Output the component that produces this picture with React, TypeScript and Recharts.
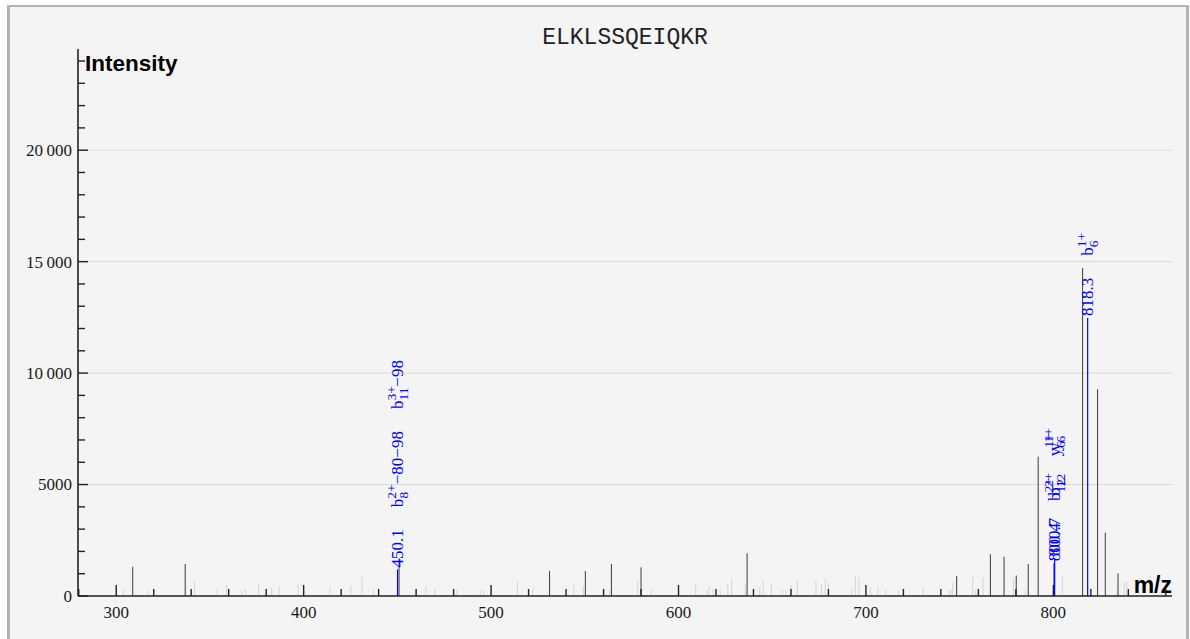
import React from 'react';
import { ComposedChart, Scatter, ErrorBar, XAxis, YAxis, CartesianGrid, Label } from 'recharts';

const peptide = 'ELKLSSQEIQKR';

const xTicks = [280, 300, 320, 340, 360, 380, 400, 420, 440, 460, 480, 500, 520, 540, 560, 580, 600, 620, 640, 660, 680, 700, 720, 740, 760, 780, 800, 820, 840, 860];
const xLabelTicks = [300, 400, 500, 600, 700, 800];
const yTicks = [0, 1000, 2000, 3000, 4000, 5000, 6000, 7000, 8000, 9000, 10000, 11000, 12000, 13000, 14000, 15000, 16000, 17000, 18000, 19000, 20000, 21000, 22000, 23000, 24000];
const yLabelTicks = [0, 5000, 10000, 15000, 20000];
const gridValues = [5000, 10000, 15000, 20000];

// [m/z, intensity]
const darkPeaks: [number, number][] = [
  [308.8, 1310], [336.8, 1435], [450.9, 1700], [531.2, 1120], [550.3, 1120],
  [564.2, 1435], [580.0, 1287], [636.6, 1915], [748.4, 905], [766.4, 1870],
  [773.7, 1763], [780.2, 920], [786.6, 1435], [791.9, 6246], [815.6, 14710],
  [823.6, 9280], [827.7, 2840], [834.5, 1017],
];

const lightPeaks: [number, number][] = [
  [303.8, 270], [316.8, 240], [341.8, 640], [353.8, 300], [358.9, 493], [366.9, 224],
  [368.8, 300], [375.9, 600], [382.9, 372], [387.0, 417], [397.0, 523], [414.0, 372],
  [425.1, 448], [431.1, 866], [437.2, 269], [465.2, 448], [470.0, 314], [481.7, 269],
  [494.2, 300], [496.0, 240], [514.1, 640], [522.3, 343], [544.2, 493], [549.2, 462],
  [563.3, 269], [578.2, 686], [585.4, 269], [609.2, 538], [615.1, 240], [616.3, 448],
  [618.6, 300], [622.2, 269], [626.3, 538], [628.3, 762], [635.6, 538], [643.4, 417],
  [645.2, 672], [649.5, 538], [655.3, 269], [657.3, 269], [660.0, 508], [663.4, 717],
  [673.3, 686], [676.3, 538], [678.3, 792], [680.0, 567], [692.5, 343], [694.3, 897],
  [696.2, 822], [702.5, 372], [706.4, 417], [710.5, 269], [717.5, 240], [730.5, 372],
  [744.5, 240], [745.4, 269], [746.3, 600], [757.0, 866], [758.6, 269], [762.5, 837],
  [778.7, 792], [785.0, 240], [804.8, 897], [834.0, 240], [837.8, 600], [839.1, 640],
];

const bluePeaks: [number, number][] = [
  [450.1, 1195], [800.4, 1466], [800.7, 1700], [818.3, 12470],
];

type Ion = { base: string; sup: string; sub: string; tail: string };
const blueMzLabels = ['450.1', '800.4', '800.7', '818.3'];
const blueIonLabels: Ion[][] = [
  [
    { base: 'b', sup: '2+', sub: '8', tail: '\u221280\u221298' },
    { base: 'b', sup: '3+', sub: '11', tail: '\u221298' },
  ],
  [
    { base: 'b', sup: '2+', sub: '12', tail: '' },
    { base: 'y', sup: '1+', sub: '6', tail: '' },
  ],
  [
    { base: 'b', sup: '2+', sub: '12', tail: '' },
    { base: 'y', sup: '1+', sub: '6', tail: '' },
  ],
  [
    { base: 'b', sup: '1+', sub: '6', tail: '' },
  ],
];

const toRows = (peaks: [number, number][]) =>
  peaks.map(([mz, v], i) => ({ mz, intensity: v, err: [v, 0], idx: i }));

const darkRows = toRows(darkPeaks);
const lightRows = toRows(lightPeaks);
const blueRows = toRows(bluePeaks);

const SERIF = '"Liberation Serif", "Times New Roman", serif';
const SANS = '"Liberation Sans", Arial, sans-serif';
const MONO = '"Liberation Mono", "Courier New", monospace';

const LABEL_FONT = 17;
const SCRIPT_FONT = 13.5;

const charW = (s: string, size: number) => {
  let w = 0;
  for (const c of s) {
    if (c === '+' || c === '\u2212') w += 0.564;
    else if (c === '.') w += 0.25;
    else w += 0.5;
  }
  return w * size;
};

const fmtY = (v: number) => {
  if (v >= 10000) {
    const s = String(v);
    return s.slice(0, s.length - 3) + '\u2009' + s.slice(s.length - 3);
  }
  return String(v);
};

const XTick = (props: any) => {
  const { x, y, payload } = props;
  const v = payload.value;
  const major = xLabelTicks.includes(v);
  return (
    <g>
      <line x1={x} x2={x} y1={y} y2={y - (major ? 11 : 7)} stroke="#222" strokeWidth={1.4} />
      {major && (
        <text x={x} y={y + 22} textAnchor="middle" fontFamily={SERIF} fontSize={17} fill="#1a1a1a">
          {v}
        </text>
      )}
    </g>
  );
};

const YTick = (props: any) => {
  const { x, y, payload } = props;
  const v = payload.value;
  const major = yLabelTicks.includes(v);
  return (
    <g>
      <line x1={x} x2={x + (major ? 10 : 7)} y1={y} y2={y} stroke="#222" strokeWidth={1.4} />
      {major && (
        <text x={x - 6} y={y} dy="0.35em" textAnchor="end" fontFamily={SERIF} fontSize={17} fill="#1a1a1a">
          {fmtY(v)}
        </text>
      )}
    </g>
  );
};

const NoShape = () => <g />;

const BlueShape = (props: any) => {
  const { cx, cy, payload } = props;
  if (cx == null || cy == null) return <g />;
  const i = payload.idx;
  const sx = cx;
  const sy = cy - 2;
  const ions = blueIonLabels[i];
  const parts: React.ReactNode[] = [];
  let shift = 0;
  let pendingDx = 0;
  ions.forEach((ion, k) => {
    const supW = charW(ion.sup, SCRIPT_FONT);
    const subW = charW(ion.sub, SCRIPT_FONT);
    parts.push(
      <tspan key={`b${k}`} dx={22 + pendingDx} dy={-shift}>{ion.base}</tspan>,
      <tspan key={`p${k}`} dy={-7} fontSize={SCRIPT_FONT}>{ion.sup}</tspan>,
      <tspan key={`s${k}`} dx={-supW} dy={12} fontSize={SCRIPT_FONT}>{ion.sub}</tspan>,
    );
    shift = 5;
    pendingDx = Math.max(0, supW - subW);
    if (ion.tail) {
      parts.push(<tspan key={`t${k}`} dx={pendingDx} dy={-5}>{ion.tail}</tspan>);
      shift = 0;
      pendingDx = 0;
    }
  });
  return (
    <text
      x={sx}
      y={sy}
      transform={`rotate(-90 ${sx} ${sy})`}
      fill="#0000ff"
      fontFamily={SERIF}
      fontSize={LABEL_FONT}
    >
      <tspan dy={5.8}>{blueMzLabels[i]}</tspan>
      {parts}
    </text>
  );
};

const IntensityLabel = (props: any) => {
  const vb = props.viewBox || { x: 0, y: 49, width: 78 };
  return (
    <text x={vb.x + vb.width + 7} y={vb.y + 22} fontFamily={SANS} fontWeight="bold" fontSize={22.5} fill="#000">
      Intensity
    </text>
  );
};

const MzLabel = (props: any) => {
  const vb = props.viewBox || { x: 78, y: 596, width: 1094 };
  return (
    <text x={vb.x + vb.width} y={vb.y - 3} textAnchor="end" fontFamily={SANS} fontWeight="bold" fontSize={23} fill="#000">
      m/z
    </text>
  );
};

export default function App() {
  return (
    <div style={{ position: 'absolute', left: 0, top: 0, width: 1190, height: 639, overflow: 'hidden', background: '#fff' }}>
      <div
        style={{
          position: 'absolute',
          left: 7,
          top: 5,
          width: 1182,
          height: 640,
          boxSizing: 'border-box',
          borderLeft: '3px solid #b3b3b3',
          borderTop: '2px solid #b3b3b3',
          borderRight: '3px solid #b3b3b3',
          background: '#f4f4f4',
        }}
      />
      <div
        style={{
          position: 'absolute',
          left: 78,
          top: 27,
          width: 1094,
          textAlign: 'center',
          fontFamily: MONO,
          fontSize: 23,
          lineHeight: 1,
          color: '#222',
        }}
      >
        {peptide}
      </div>
      <div style={{ position: 'absolute', left: 0, top: 0 }}>
        <ComposedChart width={1190} height={639} margin={{ top: 49, right: 18, bottom: 0, left: 0 }}>
          <CartesianGrid vertical={false} horizontalValues={gridValues} stroke="#d9d9d9" strokeWidth={1} />
          <XAxis
            type="number"
            dataKey="mz"
            domain={[279.6, 863.3]}
            allowDataOverflow
            ticks={xTicks}
            interval={0}
            height={43}
            tickSize={0}
            tickMargin={0}
            tickLine={false}
            tick={<XTick />}
            axisLine={{ stroke: '#222', strokeWidth: 1.6 }}
          >
            <Label content={<MzLabel />} />
          </XAxis>
          <YAxis
            type="number"
            dataKey="intensity"
            domain={[0, 24540]}
            allowDataOverflow
            ticks={yTicks}
            interval={0}
            width={78}
            tickSize={0}
            tickMargin={0}
            tickLine={false}
            tick={<YTick />}
            axisLine={{ stroke: '#222', strokeWidth: 1.6 }}
          >
            <Label content={<IntensityLabel />} />
          </YAxis>
          <Scatter data={lightRows} shape={<NoShape />} isAnimationActive={false}>
            <ErrorBar dataKey="err" direction="y" width={0} stroke="#d4d4d4" strokeWidth={1} isAnimationActive={false} />
          </Scatter>
          <Scatter data={darkRows} shape={<NoShape />} isAnimationActive={false}>
            <ErrorBar dataKey="err" direction="y" width={0} stroke="#3c3c3c" strokeWidth={1} isAnimationActive={false} />
          </Scatter>
          <Scatter data={blueRows} shape={<BlueShape />} isAnimationActive={false}>
            <ErrorBar dataKey="err" direction="y" width={0} stroke="#0000ff" strokeWidth={1.2} isAnimationActive={false} />
          </Scatter>
        </ComposedChart>
      </div>
    </div>
  );
}
